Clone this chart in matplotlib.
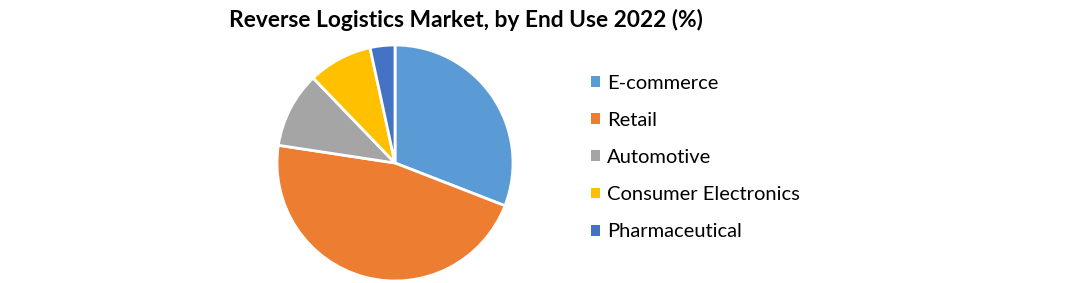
import matplotlib
matplotlib.use("Agg")
import matplotlib.pyplot as plt
from matplotlib.patches import Patch

plt.rcParams['font.family'] = ['Lato', 'DejaVu Sans']

labels = ['E-commerce', 'Retail', 'Automotive', 'Consumer Electronics', 'Pharmaceutical']
shares = [30.9, 46.5, 10.4, 8.8, 3.4]
colors = ['#5B9BD5', '#ED7D31', '#A5A5A5', '#FFC000', '#4472C4']

W, H = 1085, 283
fig = plt.figure(figsize=(W / 100, H / 100), dpi=100)

# pie centre ~ (395,163) px, radius ~118 px
cx, cy, r = 395, 163, 118
ax = fig.add_axes([(cx - r) / W, (H - cy - r) / H, 2 * r / W, 2 * r / H])
ax.pie(shares, colors=colors, startangle=90, counterclock=False,
       wedgeprops=dict(edgecolor='white', linewidth=2))
ax.set_xlim(-1, 1)
ax.set_ylim(-1, 1)
ax.set_aspect('equal')
ax.axis('off')

fig.text(466 / W, 1 - 20 / H, 'Reverse Logistics Market, by End Use 2022 (%)',
         ha='center', va='center', fontsize=16.4, fontweight='bold')

handles = [Patch(facecolor=c, edgecolor='none') for c in colors]
fig.legend(handles, labels, loc='center left', bbox_to_anchor=(591 / W, 1 - 157.5 / H),
           frameon=False, fontsize=14.5, handlelength=0.45, handleheight=0.45,
           handletextpad=0.35, labelspacing=1.0, borderpad=0, borderaxespad=0)

fig.savefig('out.png', dpi=100)
